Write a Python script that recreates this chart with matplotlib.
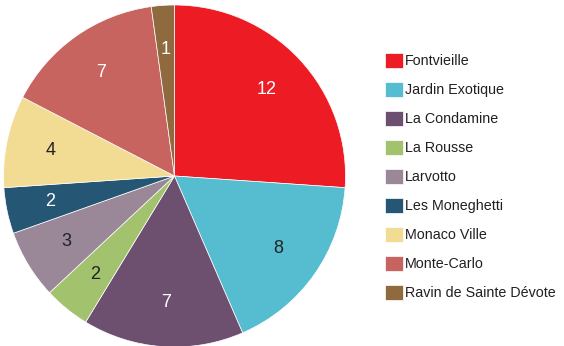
import matplotlib.pyplot as plt
from matplotlib import font_manager

quartiers = ['Fontvieille', 'Jardin Exotique', 'La Condamine', 'La Rousse', 'Larvotto',
             'Les Moneghetti', 'Monaco Ville', 'Monte-Carlo', 'Ravin de Sainte Dévote']
nombre = [12, 8, 7, 2, 3, 2, 4, 7, 1]
couleurs = ['#ED1C24', '#56BDD1', '#6D5070', '#A3C26E', '#9A8898',
            '#255674', '#F2DC93', '#C8645F', '#8E6A3E']
texte_couleurs = ['white', '#222222', 'white', '#222222', '#222222',
                  'white', '#222222', 'white', 'white']

names = {f.name for f in font_manager.fontManager.ttflist}
fam = ['Liberation Sans Narrow', 'Liberation Sans', 'DejaVu Sans']
fam = [f for f in fam if f in names] or ['DejaVu Sans']
plt.rcParams['font.family'] = fam

fig = plt.figure(figsize=(5.64, 3.46), dpi=100)
ax = fig.add_axes([3.5 / 564, -1 / 346, 342 / 564, 342 / 346])

wedges, texts = ax.pie(nombre, colors=couleurs, startangle=90, counterclock=False,
                       radius=1, labels=[str(n) for n in nombre], labeldistance=0.74,
                       wedgeprops=dict(linewidth=0.5, edgecolor='white'),
                       textprops=dict(fontsize=13))
for t, c in zip(texts, texte_couleurs):
    t.set_color(c)
    t.set_ha('center')
    t.set_va('center')
ax.set_xlim(-1, 1)
ax.set_ylim(-1, 1)
ax.set_aspect('equal')

fig.legend(wedges, quartiers, loc='upper left', bbox_to_anchor=(372 / 564, 1 - 40 / 346),
           frameon=False, fontsize=10.3, handlelength=1.25, handleheight=1.25,
           handletextpad=0.15, labelspacing=0.95, labelcolor='#231F20')

fig.savefig('out.png', dpi=100)
